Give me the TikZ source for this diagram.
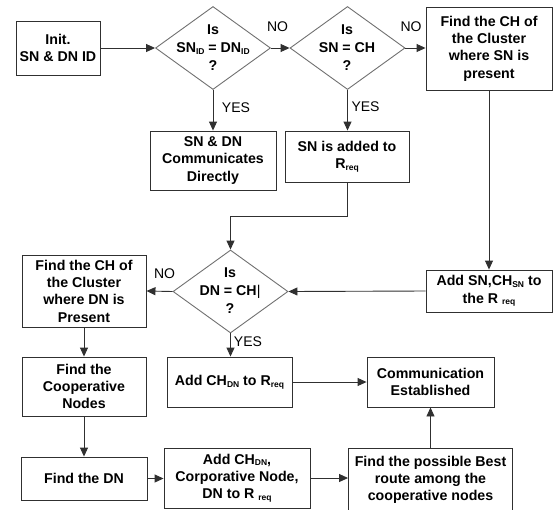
\documentclass[tikz,border=0pt]{standalone}
\usepackage{fontspec}
\setmainfont{Liberation Sans}
\usetikzlibrary{shapes.geometric,arrows.meta}
\definecolor{ln}{HTML}{303030}
\definecolor{dg}{HTML}{707070}
\newcommand{\subs}[1]{\raisebox{-1.8pt}{\fontsize{8.5}{8.5}\selectfont #1}}
\tikzset{
 box/.style={draw=ln, line width=0.9pt, rectangle, inner sep=0pt, align=center, font=\fontsize{14.2}{17.3}\selectfont\bfseries},
 dia/.style={draw=dg, line width=0.9pt, diamond, inner sep=0pt, minimum width=115pt, minimum height=83pt},
 dtxt/.style={align=center, font=\fontsize{14.2}{18}\selectfont\bfseries, inner sep=0pt},
 lbl/.style={font=\fontsize{14}{14}\selectfont, inner sep=0pt},
 arr/.style={draw=ln, line width=0.9pt, -{Triangle[length=9pt,width=8pt]}},
}
\begin{document}
\begin{tikzpicture}[x=1pt,y=-1pt]
\useasboundingbox (0,0) rectangle (553,509);
\clip (0,0) rectangle (553,509);
\node[box, minimum width=84pt, minimum height=54pt] (init) at (58,48) {Init.\\SN \& DN ID};
\node[dia] (d1) at (213,48) {};
\node[dtxt] (d1t) at (213,48) {Is\\SN\subs{ID} = DN\subs{ID}\\?};
\node[dia] (d2) at (347.5,48) {};
\node[dtxt] (d2t) at (347,48) {Is\\SN = CH\\?};
\node[box, minimum width=126pt, minimum height=83pt] (fchsn) at (489,48.5) {Find the CH of\\the Cluster\\where SN is\\present};
\node[box, minimum width=126pt, minimum height=59pt] (direct) at (213,160.5) {SN \& DN\\Communicates\\Directly};
\node[box, minimum width=124pt, minimum height=51pt] (snadd) at (347,156.5) {SN is added to\\R\subs{req}};
\node[dia] (d3) at (230.5,291.5) {};
\node[dtxt] (d3t) at (230,291) {Is\\DN = CH{\mdseries|}\\?};
\node[box, minimum width=124pt, minimum height=72pt] (fchdn) at (84,291) {Find the CH of\\the Cluster\\where DN is\\Present};
\node[box, minimum width=126pt, minimum height=42pt] (addsn) at (489,291) {Add SN,CH\subs{SN} to\\the R \subs{req}};
\node[box, minimum width=124pt, minimum height=59pt] (coop) at (84,386.5) {Find the\\Cooperative\\Nodes};
\node[box, minimum width=125pt, minimum height=50pt] (addchdn) at (229.5,382) {Add CH\subs{DN} to R\subs{req}};
\node[box, minimum width=127pt, minimum height=50pt] (comm) at (430.5,382) {Communication\\Established};
\node[box, minimum width=126pt, minimum height=43pt] (fdn) at (84,478.5) {Find the DN};
\node[box, minimum width=146pt, minimum height=60pt] (corp) at (237,478) {Add CH\subs{DN},\\Corporative Node,\\DN to R \subs{req}};
\node[box, minimum width=164pt, minimum height=64pt] (poss) at (430.5,480) {Find the possible Best\\route among the\\cooperative nodes};
\node[lbl] (no1) at (277.5,27) {NO};
\node[lbl] (no2) at (411,27) {NO};
\node[lbl] (yes1) at (236,108) {YES};
\node[lbl] (yes2) at (365.5,107) {YES};
\node[lbl] (no3) at (164.5,274) {NO};
\node[lbl] (yes3) at (248,342) {YES};
\draw[arr] (init.east) -- (d1.west);
\draw[arr] (d1.east) -- (d2.west);
\draw[arr] (d2.east) -- (d2.east -| fchsn.west);
\draw[arr] (d1.south) -- (direct.north);
\draw[arr] (d2.south) -- (d2.south |- snadd.north);
\draw[arr] (snadd.south) -- ++(0,34) -| (d3.north);
\draw[arr] (fchsn.south) -- (addsn.north);
\draw[arr] (addsn.west) -- (d3.east);
\draw[arr] (d3.west) -- (fchdn.east);
\draw[arr] (d3.south) -- (d3.south |- addchdn.north);
\draw[arr] (fchdn.south) -- (coop.north);
\draw[arr] (coop.south) -- (fdn.north);
\draw[arr] (addchdn.east) -- (comm.west);
\draw[arr] (fdn.east) -- (fdn.east -| corp.west);
\draw[arr] (corp.east) -- (corp.east -| poss.west);
\draw[arr] (poss.north) -- (comm.south);
\end{tikzpicture}
\end{document}
